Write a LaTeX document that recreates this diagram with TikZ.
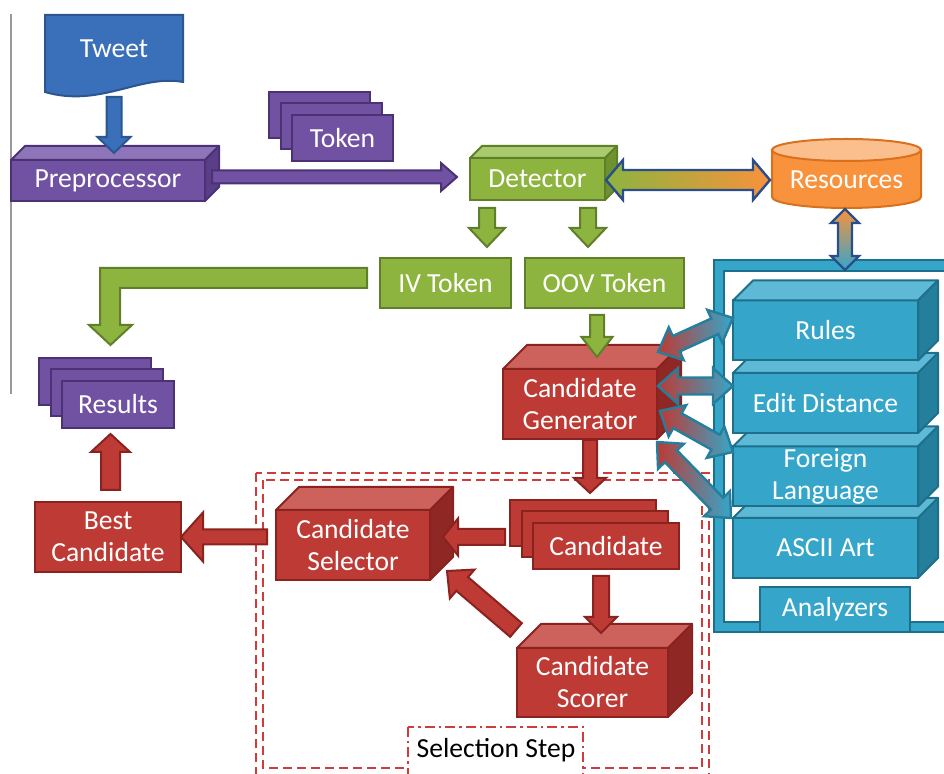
\documentclass[tikz,border=0pt]{standalone}
\usepackage{fontspec}
\setmainfont{Carlito}
\usetikzlibrary{calc}
\newcommand\fs{\fontsize{13.8}{16}\selectfont}
\definecolor{pu}{HTML}{7151A1}\definecolor{putop}{HTML}{8E74B8}\definecolor{puside}{HTML}{5A3E87}\definecolor{pubd}{HTML}{4A3274}
\definecolor{gr}{HTML}{8DB43E}\definecolor{grtop}{HTML}{AACB6D}\definecolor{grside}{HTML}{6F9230}\definecolor{grbd}{HTML}{5F7F2A}
\definecolor{rd}{HTML}{BE3A34}\definecolor{rdtop}{HTML}{CD625C}\definecolor{rdside}{HTML}{8F2824}\definecolor{rdbd}{HTML}{8A2220}
\definecolor{bl}{HTML}{35A6CA}\definecolor{bltop}{HTML}{5DB9D6}\definecolor{blside}{HTML}{237F9C}\definecolor{blbd}{HTML}{1E6F8A}
\definecolor{tw}{HTML}{3A6FB9}\definecolor{twbd}{HTML}{2B568F}
\definecolor{or}{HTML}{F8923C}\definecolor{ortop}{HTML}{FBBF8E}\definecolor{orbd}{HTML}{D9701E}
\definecolor{navy}{HTML}{2A4E8C}
\definecolor{dashred}{HTML}{CF3C3C}
\tikzset{
  cubefront/.style={fill=#1, draw=#1bd, line width=1pt, outer sep=0pt, inner sep=0pt, font=\fs, text=white, align=center},
  card/.style={fill=#1, draw=#1bd, line width=1pt, outer sep=0pt, inner sep=0pt, font=\fs, text=white, align=center},
  pa/.style={fill=pu, draw=pubd, line width=1pt},
  ga/.style={fill=gr, draw=grbd, line width=1pt},
  ra/.style={fill=rd, draw=rdbd, line width=1pt},
  ba/.style={fill=tw, draw=twbd, line width=1pt},
  gox/.style={left color=gr, right color=or, draw=navy, line width=1.2pt},
  obx/.style={top color=or, bottom color=bl, draw=navy, line width=1.2pt},
  rbx/.style={left color=rd, right color=bl, draw=blside, line width=1.2pt},
  selbox/.style={draw=dashred, line width=1.4pt, dash pattern=on 4.5pt off 2.5pt},
}
% 3D box: name, center, width px, height px, depth px, colour, text
\newcommand\cuboid[7]{%
  \node[cubefront=#6, minimum width={#3*0.5pt}, minimum height={#4*0.5pt}] (#1) at (#2) {#7};
  \filldraw[fill=#6top, draw=#6bd, line width=1pt, line join=round] (#1.north west) -- ++(#5,-#5) -- ($(#1.north east)+(#5,-#5)$) -- (#1.north east) -- cycle;
  \filldraw[fill=#6side, draw=#6bd, line width=1pt, line join=round] (#1.north east) -- ++(#5,-#5) -- ($(#1.south east)+(#5,-#5)$) -- (#1.south east) -- cycle;
}
% stack of three cards: name, front center, width, height, colour, text
\newcommand\cardstack[6]{%
  \node[card=#5, minimum width={#3*0.5pt}, minimum height={#4*0.5pt}] (#1-b) at ($(#2)+(-23,-23)$) {};
  \node[card=#5, minimum width={#3*0.5pt}, minimum height={#4*0.5pt}] (#1-m) at ($(#2)+(-11,-12)$) {};
  \node[card=#5, minimum width={#3*0.5pt}, minimum height={#4*0.5pt}] (#1) at (#2) {#6};
}
\newcommand\blockarrow[6][]{%
  \pgfmathsetlengthmacro\baW{#4*0.5pt}%
  \pgfmathsetlengthmacro\baH{#5*0.5pt}%
  \pgfmathsetlengthmacro\baL{#6*0.5pt}%
  \coordinate (ba-s) at (#2);
  \coordinate (ba-e) at (#3);
  \coordinate (ba-h) at ($(ba-e)!\baL!(ba-s)$);
  \path[#1, line join=miter] ($(ba-s)!\baW!90:(ba-e)$) -- ($(ba-h)!\baW!90:(ba-e)$) -- ($(ba-h)!\baH!90:(ba-e)$) -- (ba-e) -- ($(ba-h)!\baH!-90:(ba-e)$) -- ($(ba-h)!\baW!-90:(ba-e)$) -- ($(ba-s)!\baW!-90:(ba-e)$) -- cycle;
}
\newcommand\dblarrow[6][]{%
  \pgfmathsetlengthmacro\baW{#4*0.5pt}%
  \pgfmathsetlengthmacro\baH{#5*0.5pt}%
  \pgfmathsetlengthmacro\baL{#6*0.5pt}%
  \coordinate (ba-s) at (#2);
  \coordinate (ba-e) at (#3);
  \coordinate (ba-h1) at ($(ba-s)!\baL!(ba-e)$);
  \coordinate (ba-h2) at ($(ba-e)!\baL!(ba-s)$);
  \path[#1, line join=miter] (ba-s) -- ($(ba-h1)!\baH!90:(ba-e)$) -- ($(ba-h1)!\baW!90:(ba-e)$) -- ($(ba-h2)!\baW!90:(ba-e)$) -- ($(ba-h2)!\baH!90:(ba-e)$) -- (ba-e) -- ($(ba-h2)!\baH!-90:(ba-e)$) -- ($(ba-h2)!\baW!-90:(ba-e)$) -- ($(ba-h1)!\baW!-90:(ba-e)$) -- ($(ba-h1)!\baH!-90:(ba-e)$) -- cycle;
}
\begin{document}
\begin{tikzpicture}[x=0.5pt,y=-0.5pt]
\useasboundingbox (0,0) rectangle (944,774);
\clip (0,0) rectangle (944,774);
% left rule
\draw[gray!80, line width=0.8pt] (11,14) -- (11,394);
% Tweet document
\filldraw[fill=tw, draw=twbd, line width=1pt] (45,15) -- (183,15) -- (183,82) .. controls (140,74) and (100,108) .. (45,92) -- cycle;
\node[font=\fs, text=white] (tweet) at (114,49) {Tweet};
% Preprocessor
\cuboid{pre}{108,180.5}{194}{41}{14}{pu}{Preprocessor}
\blockarrow[ba]{114,97}{114,153}{7.5}{16.5}{16}
% Token stack
\cardstack{tok}{342.5,138}{101}{46}{pu}{Token}
\blockarrow[pa]{212,177}{457,177}{6.5}{14}{16}
% Detector
\cuboid{det}{537.5,179}{135}{42}{12}{gr}{Detector}
% Resources cylinder
\filldraw[fill=or, draw=orbd, line width=1pt] (772,150) -- (772,197) arc[start angle=180, end angle=360, x radius=37.25pt, y radius=5.5pt] -- (921,150) -- cycle;
\filldraw[fill=ortop, draw=orbd, line width=1pt] (846.5,150) ellipse [x radius=37.25pt, y radius=5.5pt];
\node[font=\fs, text=white] (res) at (846.5,180) {Resources};
\dblarrow[gox]{606,180}{770,180}{10}{20}{17}
% Analyzers frame
\fill[bl, even odd rule] (714,260) rectangle (960,632) (724,271) rectangle (960,622);
\draw[blbd, line width=1pt] (960,260) -- (714,260) -- (714,632) -- (960,632);
\draw[blbd, line width=1pt] (960,271) -- (724,271) -- (724,622) -- (960,622);
\dblarrow[obx]{845,209}{845,270}{7}{14}{14}
\cuboid{asc}{825.5,548}{185}{60}{20}{bl}{ASCII Art}
\cuboid{for}{825.5,476.5}{185}{60}{20}{bl}{Foreign\\Language}
\cuboid{edi}{825.5,403}{185}{60}{20}{bl}{Edit Distance}
\cuboid{rul}{825.5,330.5}{185}{60}{20}{bl}{Rules}
\node[card=bl, minimum width=75pt, minimum height=22.5pt] (anl) at (835,609.5) {Analyzers};
% IV / OOV tokens
\node[card=gr, minimum width=65.5pt, minimum height=25pt] (iv) at (445.5,283) {IV Token};
\node[card=gr, minimum width=79.5pt, minimum height=25pt] (oov) at (604.5,283) {OOV Token};
\blockarrow[ga]{487,208}{487,247}{8}{18}{19}
\blockarrow[ga]{588,208}{588,247}{8}{18}{19}
% L-shaped arrow to results
\filldraw[ga, line join=miter] (367,268) -- (100,268) -- (100,325) -- (89,325) -- (110.5,345) -- (132,325) -- (120,325) -- (120,288) -- (367,288) -- cycle;
\cardstack{rsl}{118,404.5}{112}{47}{pu}{Results}
% Selection step
\draw[selbox] (256,473) rectangle (709,800);
\draw[selbox] (263,480) rectangle (702,768);
\filldraw[fill=white, draw=dashred, line width=1.2pt, dash pattern=on 5pt off 2pt on 1.2pt off 2pt] (408,727) rectangle (583,800);
\node[font=\fs, text=black] (step) at (496,750) {Selection Step};
% Candidate generator
\cuboid{gen}{580,404}{154}{70}{24}{rd}{Candidate\\Generator}
\blockarrow[ga]{597,315}{597,357}{7}{15.5}{20}
\blockarrow[ra]{590,440}{590,493}{7}{16}{15}
% Candidate stack, selector, scorer
\cardstack{cand}{606,546}{146}{46}{rd}{Candidate}
\cuboid{sel}{353,545}{154}{70}{23}{rd}{Candidate\\Selector}
\cuboid{sco}{592.5,682.5}{151}{69}{24}{rd}{Candidate\\Scorer}
\blockarrow[ra]{505,537}{443,537}{8}{18.5}{15}
\blockarrow[ra]{601,576}{601,633}{8}{16}{16}
\blockarrow[ra]{516,630}{447,571}{9}{19}{20}
% Best candidate
\node[card=rd, minimum width=73pt, minimum height=35pt] (best) at (108,537) {Best\\Candidate};
\blockarrow[ra]{267,537}{best.east}{7.5}{24.5}{22}
\blockarrow[ra]{110.5,490}{110.5,434}{9.5}{19.5}{18}
% generator <-> analyzers
\dblarrow[rbx]{658,352}{733,318}{8.5}{18}{20}
\dblarrow[rbx]{658,386}{733,386}{8.5}{18}{20}
\dblarrow[rbx]{660,411}{733,452}{8.5}{18}{20}
\dblarrow[rbx]{657,442}{731,518}{8.5}{18}{20}
\end{tikzpicture}
\end{document}
